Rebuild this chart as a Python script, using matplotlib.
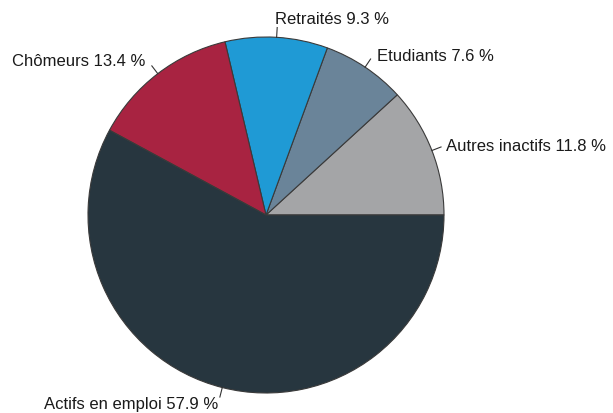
import numpy as np
import matplotlib
matplotlib.use("Agg")
import matplotlib.pyplot as plt

categories = ["Autres inactifs", "Etudiants", "Retraités", "Chômeurs", "Actifs en emploi"]
values = [11.8, 7.6, 9.3, 13.4, 57.9]
colors = ["#a4a5a7", "#6a8499", "#1f9ad5", "#a82341", "#27363f"]

# label style: (ha, va, dx px, dy px)
label_style = {
    "Autres inactifs": ("left", "center", 5, 1),
    "Etudiants": ("left", "center", 6, 4),
    "Retraités": ("left", "bottom", -2, 2),
    "Chômeurs": ("right", "center", -6, 5),
    "Actifs en emploi": ("right", "top", -2, 1),
}

plt.rcParams['font.family'] = ['Liberation Sans', 'DejaVu Sans']

W, H = 613, 414
fig = plt.figure(figsize=(W / 100, H / 100), dpi=100)
cx, cy, r = 266, 216, 178
ax = fig.add_axes([(cx - r) / W, (H - cy - r) / H, 2 * r / W, 2 * r / H])

wedges, _ = ax.pie(values, colors=colors, startangle=0, counterclock=True,
                   radius=1.0,
                   wedgeprops=dict(edgecolor="#3a3a3a", linewidth=0.8))
ax.set_xlim(-1, 1)
ax.set_ylim(-1, 1)
ax.set_aspect("equal")
ax.axis("off")

for w, cat, val in zip(wedges, categories, values):
    ang = np.deg2rad((w.theta1 + w.theta2) / 2)
    x0, y0 = np.cos(ang), np.sin(ang)
    x1, y1 = 1.055 * x0, 1.055 * y0
    ax.plot([x0, x1], [y0, y1], color="#333333", lw=0.8, clip_on=False)
    ha, va, dx, dy = label_style[cat]
    ax.annotate(f"{cat} {val:.1f} %", xy=(x1, y1), xytext=(dx, dy),
                textcoords="offset pixels", ha=ha, va=va,
                fontsize=12, color="#1a1a1a", annotation_clip=False)

fig.savefig("out.png", dpi=100, facecolor="white")
